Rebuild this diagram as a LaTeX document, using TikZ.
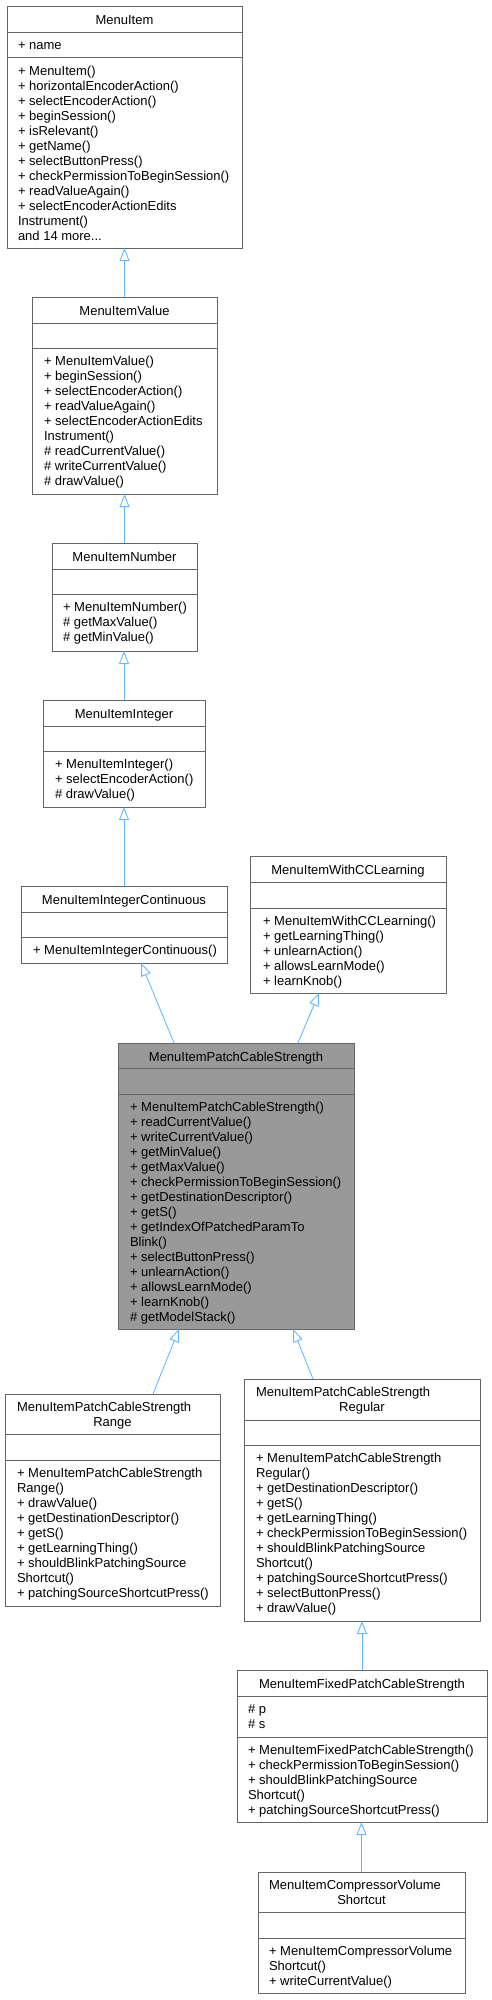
\documentclass[tikz,border=0pt]{standalone}
\usepackage{fontspec}
\setmainfont{Liberation Sans}
\usetikzlibrary{arrows.meta}
\definecolor{boxgray}{HTML}{666666}
\definecolor{pcsfill}{HTML}{999999}
\definecolor{inhblue}{HTML}{63B8FF}
\tikzset{
  cls/.style={draw=boxgray, line width=1pt, fill=white, rectangle, inner sep=0pt, outer sep=0pt},
  sepl/.style={draw=boxgray, line width=1pt},
  txt/.style={inner sep=0pt, outer sep=0pt, font=\fontsize{13}{15}\selectfont},
  inh/.style={draw=inhblue, line width=0.9pt, -{Triangle[open, length=13pt, width=10pt]}},
}
\newcommand\ubox[8]{%
  \node[cls,#8,minimum width=#4pt,minimum height=#5pt,anchor=north west] (#1) at (#2,#3) {};
  \draw[sepl] ([yshift=-#6pt]#1.north west) -- ([yshift=-#6pt]#1.north east);
  \draw[sepl] ([yshift=-#7pt]#1.north west) -- ([yshift=-#7pt]#1.north east);
}
\newcommand\ulines[4]{%
  \foreach \t [count=\i from 0] in {#4} {\node[txt,anchor=base west] (#1-\i) at (#2,{#3+15*\i}) {\t};}
}
\newcommand\threedots{.\kern0pt.\kern0pt.}
\begin{document}
\begin{tikzpicture}[x=1pt,y=-1pt]
\useasboundingbox (0,0) rectangle (491,2000);

% MenuItem
\ubox{mi}{7}{6}{235}{242}{26}{51}{}
\node[txt,anchor=base] (mi-t) at (124.5,24) {MenuItem};
\ulines{mia}{18}{49.5}{+ name}
\ulines{mim}{18}{75}{+ MenuItem(), + horizontalEncoderAction(), + selectEncoderAction(), + beginSession(), + isRelevant(), + getName(), + selectButtonPress(), + checkPermissionToBeginSession(), + readValueAgain(), + selectEncoderActionEdits, Instrument(), {and 14 more\threedots}}

% MenuItemValue
\ubox{miv}{32}{297}{185}{197}{26}{51}{}
\node[txt,anchor=base] (miv-t) at (124.5,315) {MenuItemValue};
\ulines{mivm}{44}{365.5}{+ MenuItemValue(), + beginSession(), + selectEncoderAction(), + readValueAgain(), + selectEncoderActionEdits, Instrument(), {\# readCurrentValue()}, {\# writeCurrentValue()}, {\# drawValue()}}

% MenuItemNumber
\ubox{mn}{52}{543}{145}{108}{26}{51}{}
\node[txt,anchor=base] (mn-t) at (124.5,561) {MenuItemNumber};
\ulines{mnm}{63}{611.5}{+ MenuItemNumber(), {\# getMaxValue()}, {\# getMinValue()}}

% MenuItemInteger
\ubox{mint}{43}{700}{162}{107}{26}{51}{}
\node[txt,anchor=base] (mint-t) at (124,718) {MenuItemInteger};
\ulines{mintm}{55}{768.5}{+ MenuItemInteger(), + selectEncoderAction(), {\# drawValue()}}

% MenuItemIntegerContinuous
\ubox{mic}{21}{886}{206}{77}{26}{51}{}
\node[txt,anchor=base] (mic-t) at (124,904) {MenuItemIntegerContinuous};
\ulines{micm}{33}{954.5}{+ MenuItemIntegerContinuous()}

% MenuItemWithCCLearning
\ubox{mcc}{250}{856}{196}{137}{26}{52}{}
\node[txt,anchor=base] (mcc-t) at (348,874) {MenuItemWithCCLearning};
\ulines{mccm}{263}{925.5}{+ MenuItemWithCCLearning(), + getLearningThing(), + unlearnAction(), + allowsLearnMode(), + learnKnob()}

% MenuItemPatchCableStrength
\ubox{pcs}{118}{1043}{236}{286}{25}{51}{fill=pcsfill}
\node[txt,anchor=base] (pcs-t) at (236,1061) {MenuItemPatchCableStrength};
\ulines{pcsm}{130}{1111.5}{+ MenuItemPatchCableStrength(), + readCurrentValue(), + writeCurrentValue(), + getMinValue(), + getMaxValue(), + checkPermissionToBeginSession(), + getDestinationDescriptor(), + getS(), + getIndexOfPatchedParamTo, Blink(), + selectButtonPress(), + unlearnAction(), + allowsLearnMode(), + learnKnob(), {\# getModelStack()}}

% MenuItemPatchCableStrengthRange
\ubox{rng}{5}{1394}{215}{212}{40}{66}{}
\node[txt,anchor=base west] (rng-t1) at (17,1411.5) {MenuItemPatchCableStrength};
\node[txt,anchor=base] (rng-t2) at (112.5,1426.5) {Range};
\ulines{rngm}{17}{1477.5}{+ MenuItemPatchCableStrength, Range(), + drawValue(), + getDestinationDescriptor(), + getS(), + getLearningThing(), + shouldBlinkPatchingSource, Shortcut(), + patchingSourceShortcutPress()}

% MenuItemPatchCableStrengthRegular
\ubox{reg}{244}{1379}{236}{242}{41}{66}{}
\node[txt,anchor=base west] (reg-t1) at (256,1396.5) {MenuItemPatchCableStrength};
\node[txt,anchor=base] (reg-t2) at (362,1411.5) {Regular};
\ulines{regm}{256}{1462.5}{+ MenuItemPatchCableStrength, Regular(), + getDestinationDescriptor(), + getS(), + getLearningThing(), + checkPermissionToBeginSession(), + shouldBlinkPatchingSource, Shortcut(), + patchingSourceShortcutPress(), + selectButtonPress(), + drawValue()}

% MenuItemFixedPatchCableStrength
\ubox{fix}{237}{1670}{250}{152}{26}{67}{}
\node[txt,anchor=base] (fix-t) at (362,1688) {MenuItemFixedPatchCableStrength};
\ulines{fixa}{248}{1713.5}{{\# p}, {\# s}}
\ulines{fixm}{248}{1754.5}{+ MenuItemFixedPatchCableStrength(), + checkPermissionToBeginSession(), + shouldBlinkPatchingSource, Shortcut(), + patchingSourceShortcutPress()}

% MenuItemCompressorVolumeShortcut
\ubox{cmp}{258}{1872}{207}{121}{40}{66}{}
\node[txt,anchor=base west] (cmp-t1) at (269,1889.5) {MenuItemCompressorVolume};
\node[txt,anchor=base] (cmp-t2) at (361.5,1904.5) {Shortcut};
\ulines{cmpm}{269}{1955.5}{+ MenuItemCompressorVolume, Shortcut(), + writeCurrentValue()}

% inheritance
\draw[inh] (miv.north) -- (mi.south);
\draw[inh] (mn.north) -- (miv.south);
\draw[inh] (mint.north) -- (mint.north |- mn.south);
\draw[inh] (mic.north) -- (mic.north |- mint.south);
\draw[inh] ([xshift=56pt]pcs.north west) -- ([xshift=120pt]mic.south west);
\draw[inh] ([xshift=180pt]pcs.north west) -- ([xshift=69pt]mcc.south west);
\draw[inh] ([xshift=148pt]rng.north west) -- ([xshift=61pt]pcs.south west);
\draw[inh] ([xshift=69pt]reg.north west) -- ([xshift=175pt]pcs.south west);
\draw[inh] (fix.north) -- (fix.north |- reg.south);
\draw[inh] (cmp.north) -- (cmp.north |- fix.south);
\end{tikzpicture}
\end{document}
